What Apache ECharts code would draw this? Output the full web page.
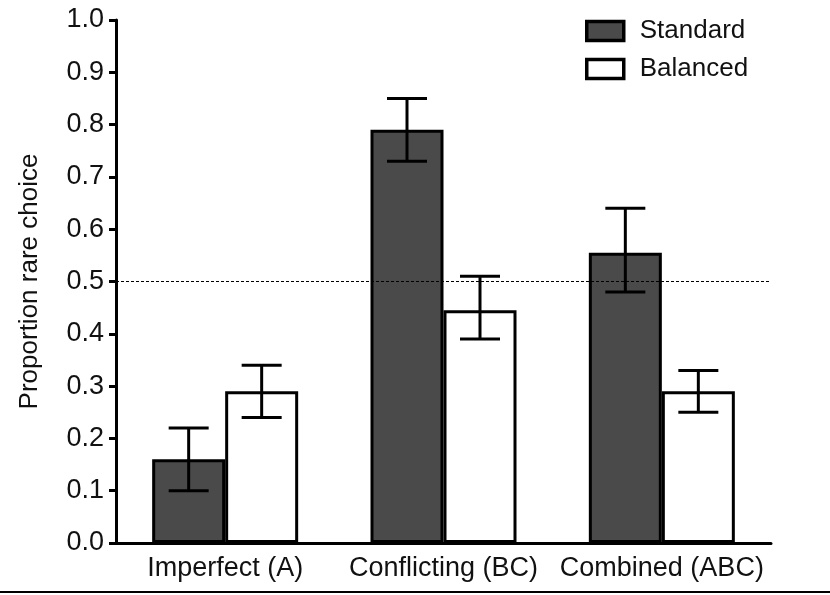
<!DOCTYPE html>
<html>
<head>
<meta charset="utf-8">
<script src="https://cdn.jsdelivr.net/npm/echarts@6/dist/echarts.min.js"></script>
<style>html,body{margin:0;padding:0;background:#fff;}#c{width:830px;height:595px;}</style>
</head>
<body>
<div id="c"></div>
<script>
var categories = ['Imperfect (A)', 'Conflicting (BC)', 'Combined (ABC)'];
var standard = [0.16, 0.79, 0.555];
var standardLow = [0.10, 0.73, 0.48];
var standardHigh = [0.22, 0.85, 0.64];
var balanced = [0.29, 0.445, 0.29];
var balancedLow = [0.24, 0.39, 0.25];
var balancedHigh = [0.34, 0.51, 0.33];
var yTicks = [0.0, 0.1, 0.2, 0.3, 0.4, 0.5, 0.6, 0.7, 0.8, 0.9, 1.0];
var refLine = 0.5;

var BAR_W = 73;
var FONT = 'Liberation Sans, Arial, sans-serif';
var FS = 27;

function errData(low, high) {
  return categories.map(function (c, i) { return [i, low[i], high[i]]; });
}
function errRender(side) {
  return function (params, api) {
    var i = api.value(0);
    var lo = api.coord([i, api.value(1)]);
    var hi = api.coord([i, api.value(2)]);
    var x = lo[0] + side * BAR_W / 2;
    var cap = 20;
    var st = { stroke: '#000', lineWidth: 3, fill: null };
    return {
      type: 'group',
      children: [
        { type: 'line', shape: { x1: x, y1: lo[1], x2: x, y2: hi[1] }, style: st },
        { type: 'line', shape: { x1: x - cap, y1: lo[1], x2: x + cap, y2: lo[1] }, style: st },
        { type: 'line', shape: { x1: x - cap, y1: hi[1], x2: x + cap, y2: hi[1] }, style: st }
      ]
    };
  };
}

var chart = echarts.init(document.getElementById('c'));
chart.setOption({
  animation: false,
  backgroundColor: '#fff',
  grid: { left: 116, right: 59, top: 20, bottom: 52 },
  legend: {
    orient: 'vertical',
    left: 580,
    top: 13,
    icon: 'rect',
    itemWidth: 37,
    itemHeight: 19,
    itemGap: 12,
    itemStyle: { borderWidth: 3.5, borderColor: '#000' },
    textStyle: { fontFamily: FONT, fontSize: 26, color: '#111', padding: [0, 0, 0, 11] },
    data: ['Standard', 'Balanced']
  },
  xAxis: {
    type: 'category',
    data: categories,
    axisLine: { lineStyle: { color: '#000', width: 3 } },
    axisTick: { alignWithLabel: true, length: 8, lineStyle: { color: '#000', width: 3 } },
    axisLabel: { fontFamily: FONT, fontSize: FS, color: '#111', margin: 12, interval: 0 }
  },
  yAxis: {
    type: 'value',
    min: yTicks[0],
    max: yTicks[yTicks.length - 1],
    interval: 0.1,
    name: 'Proportion rare choice',
    nameLocation: 'middle',
    nameGap: 73,
    nameTextStyle: { fontFamily: FONT, fontSize: 26, color: '#111' },
    axisLine: { show: true, lineStyle: { color: '#000', width: 3 } },
    axisTick: { show: true, length: 7, lineStyle: { color: '#000', width: 3 } },
    axisLabel: { fontFamily: FONT, fontSize: FS, color: '#111', margin: 12,
      formatter: function (v) { return v.toFixed(1); } },
    splitLine: { show: false }
  },
  series: [
    {
      name: 'Standard', type: 'bar', data: standard, barWidth: BAR_W, barGap: '0%',
      itemStyle: { color: '#4a4a4a', borderColor: '#000', borderWidth: 3 },
      markLine: {
        silent: true, symbol: 'none', label: { show: false },
        lineStyle: { color: '#000', width: 1, type: [3, 2] },
        data: [{ yAxis: refLine }]
      },
      z: 2
    },
    {
      name: 'Balanced', type: 'bar', data: balanced, barWidth: BAR_W, barGap: '0%',
      itemStyle: { color: '#fff', borderColor: '#000', borderWidth: 3 },
      z: 2
    },
    { type: 'custom', data: errData(standardLow, standardHigh), renderItem: errRender(-1), z: 5, silent: true },
    { type: 'custom', data: errData(balancedLow, balancedHigh), renderItem: errRender(1), z: 5, silent: true }
  ],
  graphic: [
    { type: 'rect', left: 0, top: 591, shape: { width: 830, height: 2 }, style: { fill: '#000' } }
  ]
});
</script>
</body>
</html>
